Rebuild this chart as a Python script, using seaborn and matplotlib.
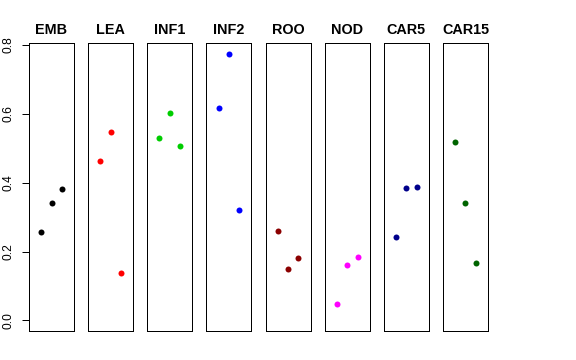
import matplotlib
matplotlib.use("Agg")
import matplotlib.pyplot as plt
import seaborn as sns
import pandas as pd

sns.set_style("white")
plt.rcParams['font.family'] = ['Liberation Sans', 'DejaVu Sans']
plt.rcParams['text.color'] = 'black'
plt.rcParams['axes.labelcolor'] = 'black'
plt.rcParams['ytick.color'] = 'black'

tissues = ["EMB", "LEA", "INF1", "INF2", "ROO", "NOD", "CAR5", "CAR15"]
colors = ["#000000", "#FF0000", "#00CD00", "#0000FF", "#8B0000", "#FF00FF", "#00008B", "#006400"]
replicate = [1, 2, 3]
EMB = [0.256, 0.340, 0.381]
LEA = [0.463, 0.547, 0.138]
INF1 = [0.531, 0.602, 0.507]
INF2 = [0.616, 0.774, 0.320]
ROO = [0.260, 0.149, 0.180]
NOD = [0.047, 0.161, 0.183]
CAR5 = [0.241, 0.385, 0.388]
CAR15 = [0.518, 0.340, 0.166]
values = [EMB, LEA, INF1, INF2, ROO, NOD, CAR5, CAR15]
yticks = [0.0, 0.2, 0.4, 0.6, 0.8]
ytick_labels = ["0.0", "0.2", "0.4", "0.6", "0.8"]

W, H = 576, 360
fig = plt.figure(figsize=(W / 72, H / 72), dpi=72)

left0, step, width = 29.0, 59.14, 45.0
top, bottom = 42.7, 331.0

for i, (name, col, vals) in enumerate(zip(tissues, colors, values)):
    lx = left0 + i * step
    ax = fig.add_axes([lx / W, (H - bottom) / H, width / W, (bottom - top) / H])
    df = pd.DataFrame({"x": replicate, "y": vals})
    sns.scatterplot(data=df, x="x", y="y", ax=ax, color=col, s=36, linewidth=0, legend=False)
    ax.set_xlim(-0.16, 4.16)
    ax.set_ylim(-0.031, 0.807)
    ax.set_xticks([])
    ax.set_xlabel("")
    ax.set_ylabel("")
    for sp in ax.spines.values():
        sp.set_visible(True)
        sp.set_color("black")
        sp.set_linewidth(1.0)
    ax.set_title(name, fontsize=14.4, fontweight="bold", pad=8.5, color="black")
    if i == 0:
        ax.set_yticks(yticks)
        ax.set_yticklabels(ytick_labels, rotation=90, va="center", fontsize=12)
        ax.tick_params(axis="y", direction="out", length=7, width=1, pad=7, left=True,
                       colors="black", labelcolor="black")
    else:
        ax.set_yticks([])

fig.savefig("out.png", dpi=72)
